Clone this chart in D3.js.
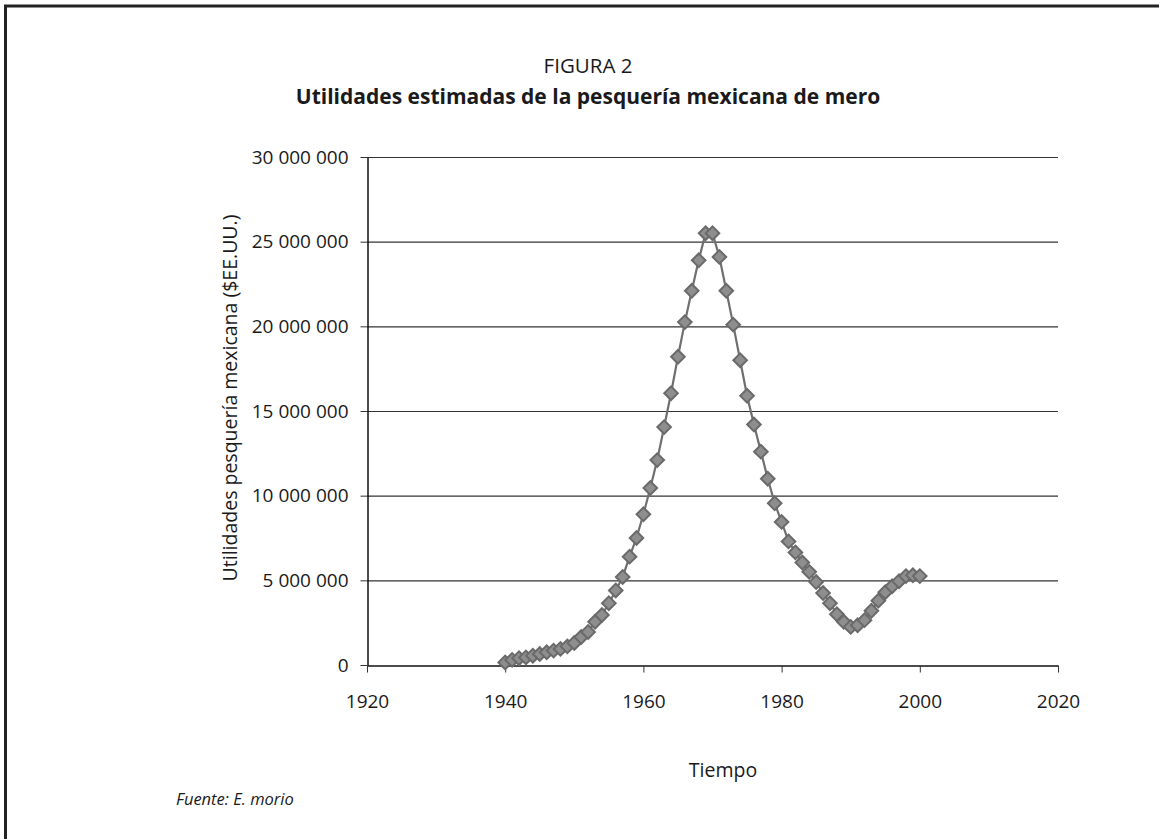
<!doctype html>
<html>
<head>
        <meta charset="utf-8">
        <script src="https://cdn.jsdelivr.net/npm/d3@7/dist/d3.min.js"></script>
        <style type="text/css">
                body {
                        margin: 0;
                        background: #ffffff;
                }
                svg {
                        font-family: "Open Sans", "Noto Sans", sans-serif;
                }
                .tick text {
                        font-size: 19px;
                        fill: #1a1a1a;
                }
        </style>
</head>
<body>

        <svg width="1159" height="839"></svg>

        <script type="text/javascript">

        var years = [1940, 1941, 1942, 1943, 1944, 1945, 1946, 1947, 1948, 1949,
                     1950, 1951, 1952, 1953, 1954, 1955, 1956, 1957, 1958, 1959,
                     1960, 1961, 1962, 1963, 1964, 1965, 1966, 1967, 1968, 1969,
                     1970, 1971, 1972, 1973, 1974, 1975, 1976, 1977, 1978, 1979,
                     1980, 1981, 1982, 1983, 1984, 1985, 1986, 1987, 1988, 1989,
                     1990, 1991, 1992, 1993, 1994, 1995, 1996, 1997, 1998, 1999,
                     2000];
        var profits = [150000, 300000, 400000, 450000, 550000, 650000, 750000, 850000, 950000, 1100000,
                       1300000, 1650000, 1950000, 2550000, 2950000, 3650000, 4400000, 5200000, 6400000, 7500000,
                       8900000, 10450000, 12100000, 14050000, 16050000, 18200000, 20250000, 22100000, 23900000, 25500000,
                       25500000, 24100000, 22100000, 20100000, 18000000, 15900000, 14200000, 12600000, 11000000, 9550000,
                       8450000, 7300000, 6650000, 6050000, 5500000, 4900000, 4250000, 3650000, 3000000, 2550000,
                       2250000, 2350000, 2650000, 3200000, 3800000, 4300000, 4650000, 4950000, 5250000, 5300000,
                       5250000];
        var xTicks = [1920, 1940, 1960, 1980, 2000, 2020];
        var yTicks = [0, 5000000, 10000000, 15000000, 20000000, 25000000, 30000000];

        var figLabel = "FIGURA 2";
        var title = "Utilidades estimadas de la pesquería mexicana de mero";
        var yTitle = "Utilidades pesquería mexicana ($EE.UU.)";
        var xTitle = "Tiempo";
        var source = "Fuente: E. morio";

        var svg = d3.select("svg");

        //frame (only top and left edges are visible)
        svg.append("line")
           .attr("x1", 4).attr("x2", 1159).attr("y1", 6).attr("y2", 6)
           .style("stroke", "#222").style("stroke-width", 3);
        svg.append("line")
           .attr("x1", 5.5).attr("x2", 5.5).attr("y1", 5).attr("y2", 839)
           .style("stroke", "#222").style("stroke-width", 3);

        //scales
        var xScale = d3.scaleLinear()
                       .domain([1920, 2020])
                       .range([367, 1058]);
        var yScale = d3.scaleLinear()
                       .domain([0, 30000000])
                       .range([665, 157]);

        var fmt = function(d) { return d3.format(",")(d).replace(/,/g, " "); };

        //gridlines
        svg.append("g")
           .selectAll("line")
           .data(yTicks.filter(function(d) { return d > 0; }))
           .enter()
           .append("line")
           .attr("x1", 367).attr("x2", 1058)
           .attr("y1", function(d) { return yScale(d) + 0.5; })
           .attr("y2", function(d) { return yScale(d) + 0.5; })
           .style("stroke", "#333").style("stroke-width", 1.2);

        //axes
        var xAxis = d3.axisBottom()
                      .scale(xScale)
                      .tickValues(xTicks)
                      .tickFormat(d3.format("d"))
                      .tickSize(7)
                      .tickPadding(22)
                      .tickSizeOuter(0);
        svg.append("g")
           .attr("id", "xAxisG")
           .attr("transform", "translate(0," + 665.5 + ")")
           .call(xAxis);

        var yAxis = d3.axisLeft()
                      .scale(yScale)
                      .tickValues(yTicks)
                      .tickFormat(fmt)
                      .tickSize(7)
                      .tickPadding(12)
                      .tickSizeOuter(0);
        svg.append("g")
           .attr("id", "yAxisG")
           .attr("transform", "translate(" + 367.5 + ",0)")
           .call(yAxis);

        svg.selectAll(".domain").style("stroke", "#111").style("stroke-width", 1.5);
        svg.selectAll(".tick line").style("stroke", "#333");
        svg.selectAll(".tick text").style("font-family", "'Open Sans', sans-serif");

        //line + diamonds
        var pts = years.map(function(y, i) { return [y, profits[i]]; });
        var line = d3.line()
                     .x(function(d) { return xScale(d[0]); })
                     .y(function(d) { return yScale(d[1]); });
        svg.append("path")
           .datum(pts)
           .attr("d", line)
           .style("fill", "none")
           .style("stroke", "#6f6f6f")
           .style("stroke-width", 2.2);

        var diamond = d3.symbol().type(d3.symbolSquare).size(92);
        svg.append("g")
           .selectAll("path")
           .data(pts)
           .enter()
           .append("path")
           .attr("d", diamond)
           .attr("transform", function(d) {
                return "translate(" + xScale(d[0]) + "," + yScale(d[1]) + ") rotate(45)";
           })
           .style("fill", "#8e8e8e")
           .style("stroke", "#6a6a6a")
           .style("stroke-width", 2);

        //texts
        svg.append("text")
           .attr("x", 588).attr("y", 73)
           .attr("text-anchor", "middle")
           .style("font-size", "20.5px").style("fill", "#1a1a1a")
           .text(figLabel);
        svg.append("text")
           .attr("x", 588).attr("y", 104)
           .attr("text-anchor", "middle")
           .style("font-size", "21px").style("font-weight", "bold").style("fill", "#1a1a1a")
           .text(title);
        svg.append("text")
           .attr("transform", "translate(237,398) rotate(-90)")
           .attr("text-anchor", "middle")
           .style("font-size", "19.5px").style("fill", "#1a1a1a")
           .text(yTitle);
        svg.append("text")
           .attr("x", 723).attr("y", 777)
           .attr("text-anchor", "middle")
           .style("font-size", "19.5px").style("fill", "#1a1a1a")
           .text(xTitle);
        svg.append("text")
           .attr("x", 176).attr("y", 805)
           .style("font-size", "16.5px").style("font-style", "italic").style("fill", "#1a1a1a")
           .text(source);

        </script>

</body>
</html>
